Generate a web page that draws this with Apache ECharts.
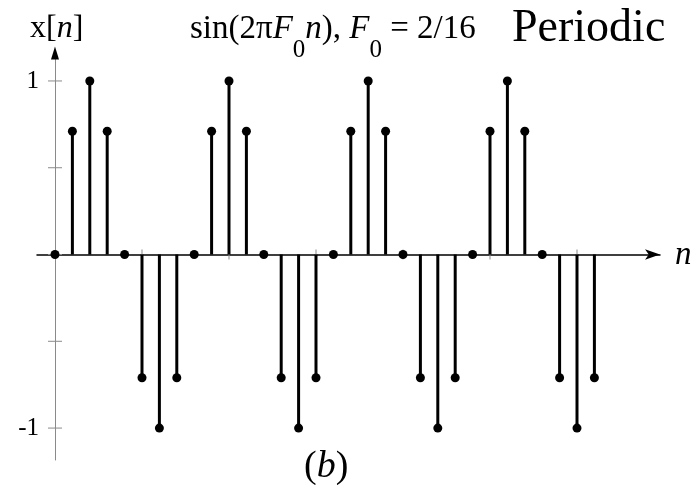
<!DOCTYPE html>
<html>
<head>
<meta charset="utf-8">
<script src="https://cdn.jsdelivr.net/npm/echarts@6/dist/echarts.min.js"></script>
<style>
  html, body { margin: 0; padding: 0; background: #fff; }
  #chart { width: 698px; height: 485px; }
</style>
</head>
<body>
<div id="chart"></div>
<script>
// Sample index n
const samples = [0,1,2,3,4,5,6,7,8,9,10,11,12,13,14,15,16,17,18,19,20,21,22,23,24,25,26,27,28,29,30,31];
// x[n] values, one period every 8 samples
const values = [
  0, 0.71, 1, 0.71, 0, -0.71, -1, -0.71,
  0, 0.71, 1, 0.71, 0, -0.71, -1, -0.71,
  0, 0.71, 1, 0.71, 0, -0.71, -1, -0.71,
  0, 0.71, 1, 0.71, 0, -0.71, -1, -0.71
];
// Axis ticks
const yTicks = [1, 0.5, 0, -0.5, -1];
const yTickLabels = [1, -1];
const xTicks = [5, 10, 15, 20, 25, 30];

const X_MIN = -1.034, X_MAX = 34.77;
const Y_MIN = -1.184, Y_MAX = 1.138;

const serif = '"Liberation Serif", "Times New Roman", serif';
const chart = echarts.init(document.getElementById('chart'), null, { renderer: 'canvas' });

const stemData = samples.map((n, i) => [n, values[i]]);

function txt(size, extra) {
  return Object.assign({ fontFamily: serif, fontSize: size, fontWeight: 'normal', color: '#000' }, extra || {});
}

chart.setOption({
  animation: false,
  backgroundColor: '#ffffff',
  title: [
    {
      left: 25, top: 8,
      text: '{r|x[}{i|n}{r|]}',
      textStyle: { fontWeight: 'normal', rich: {
        r: txt(32),
        i: txt(32, { fontStyle: 'italic' })
      } }
    },
    {
      left: 185, top: 8,
      text: '{r|sin(2π}{i|F}{s|0}{i|n}{r|), }{i|F}{s|0}{r| = 2/16}',
      textStyle: { fontWeight: 'normal', rich: {
        r: txt(33, { lineHeight: 35, verticalAlign: 'top' }),
        i: txt(33, { fontStyle: 'italic', lineHeight: 35, verticalAlign: 'top' }),
        s: txt(25, { lineHeight: 25, verticalAlign: 'top', padding: [25, 0, 0, 0] })
      } }
    },
    {
      left: 507, top: 1,
      text: 'Periodic',
      textStyle: txt(46)
    },
    {
      left: 299, top: 443,
      text: '{r|(}{i|b}{r|)}',
      textStyle: { fontWeight: 'normal', rich: {
        r: txt(38),
        i: txt(38, { fontStyle: 'italic' })
      } }
    },
    {
      left: 670, top: 234,
      text: 'n',
      textStyle: txt(33, { fontStyle: 'italic' })
    }
  ],
  grid: { left: 37, right: 38, top: 57, bottom: 25 },
  xAxis: {
    type: 'value', min: X_MIN, max: X_MAX,
    splitLine: { show: false },
    axisTick: { show: false },
    axisLabel: { show: false },
    axisLine: {
      onZero: true,
      lineStyle: { color: '#000', width: 1.5 },
      symbol: ['none', 'arrow'],
      symbolSize: [8, 15]
    }
  },
  yAxis: {
    type: 'value', min: Y_MIN, max: Y_MAX,
    splitLine: { show: false },
    axisTick: { show: false },
    axisLabel: {
      customValues: yTickLabels,
      margin: -2,
      fontFamily: serif, fontSize: 25, color: '#000'
    },
    axisLine: {
      onZero: true,
      lineStyle: { color: '#8a8a8a', width: 1 }
    }
  },
  series: [
    {
      // y-axis tick marks crossing the axis
      type: 'scatter', silent: true, z: 1,
      symbol: 'rect', symbolSize: [14, 1],
      itemStyle: { color: '#8a8a8a', opacity: 1 },
      data: yTicks.map(v => [0, v])
    },
    {
      // n-axis tick marks
      type: 'scatter', silent: true, z: 1,
      symbol: 'rect', symbolSize: [1, 10],
      itemStyle: { color: '#8a8a8a', opacity: 1 },
      data: xTicks.map(v => [v, 0])
    },
    {
      // arrowhead on the x[n] axis
      type: 'scatter', silent: true, z: 2, clip: false,
      symbol: 'triangle', symbolSize: [8, 13], symbolOffset: [0, -4],
      itemStyle: { color: '#000', opacity: 1 },
      data: [[0, Y_MAX]]
    },
    {
      // stems
      type: 'custom', z: 3,
      renderItem: function (params, api) {
        const p0 = api.coord([api.value(0), 0]);
        const p1 = api.coord([api.value(0), api.value(1)]);
        return {
          type: 'line',
          shape: { x1: p0[0], y1: p0[1], x2: p1[0], y2: p1[1] },
          style: { stroke: '#000', lineWidth: 3 }
        };
      },
      data: stemData
    },
    {
      // stem heads
      type: 'scatter', z: 4,
      symbol: 'circle', symbolSize: 9,
      itemStyle: { color: '#000', opacity: 1 },
      data: stemData
    }
  ]
});
</script>
</body>
</html>
